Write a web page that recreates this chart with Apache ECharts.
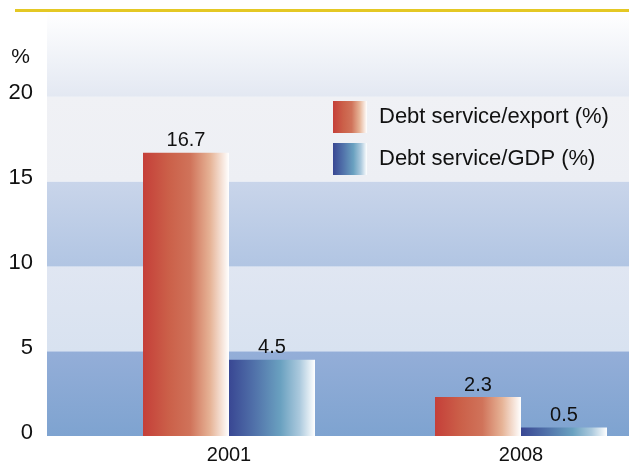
<!DOCTYPE html>
<html>
<head>
<meta charset="utf-8">
<script src="https://cdn.jsdelivr.net/npm/echarts@6/dist/echarts.min.js"></script>
<style>
  html, body { margin: 0; padding: 0; background: #ffffff; }
  #chart { width: 629px; height: 464px; }
</style>
</head>
<body>
<div id="chart"></div>
<script>
// Years on the category axis
const years = ['2001', '2008'];
// Debt service ratios, in percent
const debtServiceExport = [16.7, 2.3];
const debtServiceGDP = [4.5, 0.5];
// Value axis range and step
const yMin = 0;
const yMax = 25;
const yStep = 5;
const seriesNames = ['Debt service/export (%)', 'Debt service/GDP (%)'];

const FONT = '"Liberation Sans", Arial, Helvetica, sans-serif';

function hGrad(stops) {
  return new echarts.graphic.LinearGradient(0, 0, 1, 0,
    stops.map(s => ({ offset: s[0], color: s[1] })));
}
function vGrad(top, bottom) {
  return new echarts.graphic.LinearGradient(0, 0, 0, 1,
    [{ offset: 0, color: top }, { offset: 1, color: bottom }]);
}

const redFill = hGrad([
  [0, '#c53f39'], [0.3, '#cb6049'], [0.55, '#d0735a'],
  [0.78, '#e6b396'], [1, '#ffffff']
]);
const blueFill = hGrad([
  [0, '#394793'], [0.3, '#5172aa'], [0.6, '#6aa1c0'],
  [0.82, '#abc9dd'], [1, '#ffffff']
]);

// Horizontal background bands, one per 5-point step
const bandStyles = [
  vGrad('#94aed8', '#7ea3d0'),
  vGrad('#e0e6f2', '#d8e2f0'),
  vGrad('#c9d5ea', '#b1c5e3'),
  vGrad('#f0f1f5', '#edeff4'),
  vGrad('#ffffff', '#e3e8f2')
];
const bands = [];
for (let v = yMin, i = 0; v < yMax; v += yStep, i++) {
  bands.push([{ yAxis: v, itemStyle: { color: bandStyles[i] } }, { yAxis: v + yStep }]);
}

const chart = echarts.init(document.getElementById('chart'));
chart.setOption({
  animation: false,
  textStyle: { fontFamily: FONT },
  graphic: [{
    type: 'rect',
    shape: { x: 15, y: 9, width: 614, height: 3 },
    style: { fill: '#e4c824' },
    z: 10
  }],
  grid: [
    // background panel
    { left: 47, right: 0, top: 12, bottom: 28, outerBoundsMode: 'none' },
    // bar panel, wider than the window so the years sit on the band centres
    { left: 83, width: 584, top: 12, bottom: 28, outerBoundsMode: 'none' }
  ],
  xAxis: [
    { type: 'category', gridIndex: 0, data: [''], show: false },
    {
      type: 'category', gridIndex: 1, data: years,
      axisLine: { show: false }, axisTick: { show: false },
      axisLabel: { color: '#111', fontSize: 20, margin: 9, fontFamily: FONT }
    }
  ],
  yAxis: [
    {
      type: 'value', gridIndex: 0, min: yMin, max: yMax, interval: yStep,
      name: '%', nameLocation: 'end', nameGap: 0,
      nameTextStyle: { color: '#111', fontSize: 21, align: 'right', padding: [0, 17, -56, 0], fontFamily: FONT },
      axisLine: { show: false }, axisTick: { show: false }, splitLine: { show: false },
      axisLabel: {
        color: '#111', fontSize: 22, margin: 14, fontFamily: FONT,
        verticalAlign: 'bottom', lineHeight: 7,
        formatter: v => (v === yMax ? '' : String(v))
      }
    },
    {
      type: 'value', gridIndex: 1, min: yMin, max: yMax, interval: yStep,
      show: false
    }
  ],
  legend: {
    left: 333, top: 101, orient: 'vertical', padding: 0,
    itemWidth: 34, itemHeight: 32, itemGap: 10,
    icon: 'rect',
    textStyle: { color: '#111', fontSize: 22, padding: [0, 0, 0, 7], fontFamily: FONT },
    data: seriesNames
  },
  series: [
    {
      type: 'line', xAxisIndex: 0, yAxisIndex: 0, data: [],
      silent: true, z: 0,
      markArea: { silent: true, data: bands }
    },
    {
      name: seriesNames[0], type: 'bar', xAxisIndex: 1, yAxisIndex: 1,
      data: debtServiceExport, barWidth: 86, barGap: '0%',
      itemStyle: { color: redFill },
      label: { show: true, position: 'top', distance: 2, color: '#111', fontSize: 20, fontFamily: FONT }
    },
    {
      name: seriesNames[1], type: 'bar', xAxisIndex: 1, yAxisIndex: 1,
      data: debtServiceGDP, barWidth: 86, barGap: '0%',
      itemStyle: { color: blueFill },
      label: { show: true, position: 'top', distance: 2, color: '#111', fontSize: 20, fontFamily: FONT }
    }
  ]
});
</script>
</body>
</html>
